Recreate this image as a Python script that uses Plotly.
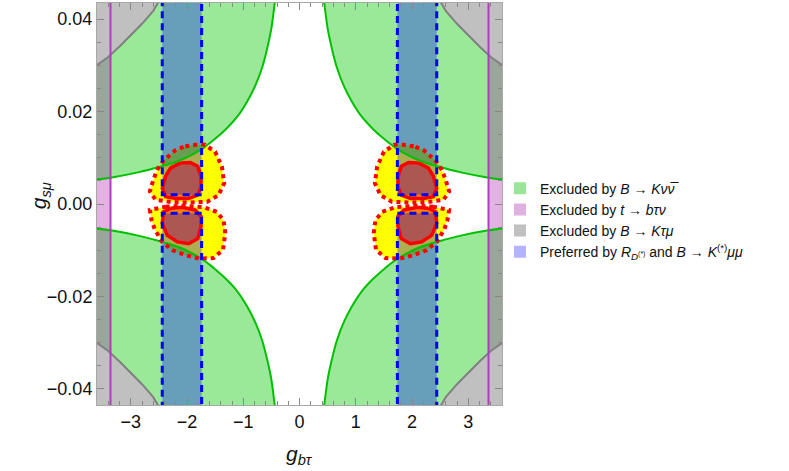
import plotly.graph_objects as go

# axis ranges
x_range = [-3.6, 3.6]
y_range = [-0.0435, 0.0435]
x_ticks = [-3, -2, -1, 0, 1, 2, 3]
y_ticks = [-0.04, -0.02, 0.0, 0.02, 0.04]

# B -> K nu nubar exclusion boundary, upper right branch
knn_x = [0.43, 0.50, 0.58, 0.66, 0.78, 0.93, 1.10, 1.30, 1.50, 1.70, 1.95, 2.20, 2.50, 2.85, 3.36, 3.62]
knn_y = [0.0445, 0.0380, 0.0334, 0.0297, 0.0258, 0.0222, 0.0190, 0.0163, 0.0141, 0.0122,
         0.0104, 0.0091, 0.0080, 0.0069, 0.0057, 0.0053]

# B -> K tau mu exclusion boundary, upper right branch
ktm_x = [2.46, 2.60, 2.80, 3.00, 3.20, 3.40, 3.62]
ktm_y = [0.0447, 0.0418, 0.0390, 0.0365, 0.0341, 0.0318, 0.0299]

# t -> b tau nu limit on |g_btau|
tbtn_limit = 3.36

# preferred band in |g_btau| and its gap around g_smu = 0
band_lo = 1.74
band_hi = 2.44
band_gap = 0.0020

# R_D(*) and B -> K(*) mu mu contours on the negative g_btau side
up_outer_x = [-2.03, -1.85, -1.68, -1.50, -1.38, -1.34, -1.44, -1.64, -1.97, -2.32, -2.56, -2.66, -2.60, -2.53, -2.41, -2.20]
up_outer_y = [0.0125, 0.0128, 0.0128, 0.0113, 0.0081, 0.0045, 0.0019, 0.0005, 0.0003, 0.0005,
              0.0009, 0.0027, 0.0052, 0.0074, 0.0095, 0.0117]
dn_outer_x = [-2.38, -2.09, -1.70, -1.47, -1.35, -1.32, -1.36, -1.53, -1.79, -2.02, -2.26, -2.44, -2.57, -2.63, -2.66]
dn_outer_y = [-0.0006, -0.0004, -0.0007, -0.0017, -0.0035, -0.0063, -0.0099, -0.0117, -0.0118,
              -0.0111, -0.0100, -0.0082, -0.0056, -0.0035, -0.0013]
up_inner_x = [-2.11, -1.94, -1.81, -1.75, -1.75, -1.81, -1.97, -2.20, -2.38, -2.44, -2.38, -2.29]
up_inner_y = [0.0089, 0.0090, 0.0082, 0.0059, 0.0037, 0.0019, 0.0012, 0.0012, 0.0016, 0.0034, 0.0060, 0.0078]
dn_inner_x = [-2.29, -2.09, -1.85, -1.75, -1.75, -1.81, -1.97, -2.17, -2.35, -2.44, -2.42]
dn_inner_y = [-0.0009, -0.0007, -0.0013, -0.0027, -0.0049, -0.0075, -0.0086, -0.0082, -0.0068, -0.0042, -0.0017]

legend_names = [
    "Excluded by <i>B</i> → <i>Kν</i><i>ν̅</i>",
    "Excluded by <i>t</i> → <i>bτν</i>",
    "Excluded by <i>B</i> → <i>Kτμ</i>",
    "Preferred by <i>R</i><sub><i>D</i><sup>(*)</sup></sub> and <i>B</i> → <i>K</i><sup>(*)</sup><i>μμ</i>",
]
legend_colors = ["#99e699", "#e0b0e0", "#c0c0c0", "#b3b3ff"]

GREEN_FILL = "rgba(0,200,0,0.4)"
STRIP_DARK = "#9ba69b"
PINK = "#e2b2e2"
GRAY = "#c0c0c0"
BLUE_FILL = "rgba(0,0,255,0.32)"

top = max(knn_y + ktm_y)
edge = max(knn_x + ktm_x)

fig = go.Figure()


def poly(xs, ys, fill=None, line=None):
    xs = list(xs) + [xs[0]]
    ys = list(ys) + [ys[0]]
    fig.add_trace(go.Scatter(
        x=xs, y=ys, mode="lines",
        fill="toself" if fill else None,
        fillcolor=fill,
        line=line or dict(width=0),
        hoverinfo="skip", showlegend=False,
    ))


quads = [(1, 1), (-1, 1), (1, -1), (-1, -1)]

# t -> b tau nu strips
for s in (1, -1):
    poly([s * tbtn_limit, s * edge, s * edge, s * tbtn_limit],
         [-top, -top, top, top], fill=PINK)

# outer (yellow) and inner contours, both sides
lobes_outer = [(up_outer_x, up_outer_y), (dn_outer_x, dn_outer_y)]
lobes_inner = [(up_inner_x, up_inner_y), (dn_inner_x, dn_inner_y)]
for s in (1, -1):
    for lx, ly in lobes_outer:
        poly([s * v for v in lx], ly, fill="#ffff00")
    for lx, ly in lobes_inner:
        poly([s * v for v in lx], ly, fill="#ff8000")

# B -> K nu nubar excluded region
for sx, sy in quads:
    poly([sx * v for v in knn_x] + [sx * edge], [sy * v for v in knn_y] + [sy * top], fill=GREEN_FILL)

# overlap of strip and B -> K nu nubar region
sx_pts = [x for x in knn_x if x >= tbtn_limit]
sy_pts = [y for x, y in zip(knn_x, knn_y) if x >= tbtn_limit]
for sx, sy in quads:
    poly([sx * v for v in sx_pts] + [sx * edge, sx * tbtn_limit],
         [sy * v for v in sy_pts] + [sy * top, sy * top], fill=STRIP_DARK)

# B -> K tau mu excluded region
for sx, sy in quads:
    poly([sx * v for v in ktm_x] + [sx * edge], [sy * v for v in ktm_y] + [sy * top], fill=GRAY)

# preferred band fill
band_polys = []
for sx, sy in quads:
    bx = [sx * band_lo, sx * band_hi, sx * band_hi, sx * band_lo]
    by = [sy * band_gap, sy * band_gap, sy * top * 1.1, sy * top * 1.1]
    band_polys.append((bx, by))
    poly(bx, by, fill=BLUE_FILL)

# boundary lines
for sx, sy in quads:
    fig.add_trace(go.Scatter(x=[sx * v for v in knn_x], y=[sy * v for v in knn_y], mode="lines",
                             line=dict(color="#00c000", width=2, shape="spline", smoothing=0.6),
                             hoverinfo="skip", showlegend=False))
    fig.add_trace(go.Scatter(x=[sx * v for v in ktm_x], y=[sy * v for v in ktm_y], mode="lines",
                             line=dict(color="#808080", width=2), hoverinfo="skip", showlegend=False))
for s in (1, -1):
    fig.add_trace(go.Scatter(x=[s * tbtn_limit, s * tbtn_limit], y=[-top, top], mode="lines",
                             line=dict(color="#b03cc0", width=2), hoverinfo="skip", showlegend=False))

for s in (1, -1):
    for lx, ly in lobes_outer:
        poly([s * v for v in lx], ly, line=dict(color="#ff0000", width=4, dash="4px,4px"))
    for lx, ly in lobes_inner:
        poly([s * v for v in lx], ly, line=dict(color="#ff0000", width=3.5))

for bx, by in band_polys:
    poly(bx, by, line=dict(color="#0000ff", width=3, dash="7px,5px"))

# legend swatches
for name, col in zip(legend_names, legend_colors):
    fig.add_trace(go.Scatter(x=[None], y=[None], mode="markers", name=name,
                             marker=dict(symbol="square", size=13, color=col)))

axis_common = dict(
    showline=True, linecolor="#a8a8a8", linewidth=1, mirror="allticks",
    ticks="inside", ticklen=7, tickcolor="#888888",
    showgrid=False, zeroline=False, automargin=False,
    tickfont=dict(size=18, color="#111111"),
)

fig.update_layout(
    width=789, height=471,
    margin=dict(l=97, r=287, t=3, b=66),
    paper_bgcolor="white", plot_bgcolor="white",
    font=dict(family="Liberation Sans, Arial, sans-serif", color="#111111"),
    xaxis=dict(range=x_range, tickvals=x_ticks,
               minor=dict(ticks="inside", dtick=0.2, ticklen=4, tickcolor="#888888"),
               **axis_common),
    yaxis=dict(range=y_range, tickvals=y_ticks, tickformat=".2f",
               minor=dict(ticks="inside", dtick=0.005, ticklen=4, tickcolor="#888888"),
               **axis_common),
    legend=dict(x=0.995, y=0.46, xanchor="left", yanchor="middle",
                font=dict(size=14, color="#111111"), itemsizing="constant",
                bgcolor="rgba(0,0,0,0)"),
    showlegend=True,
    annotations=[
        dict(text="<i>g</i><sub><i>bτ</i></sub>", xref="paper", yref="paper",
             x=0.5, y=-0.125, xanchor="center", yanchor="middle",
             showarrow=False, font=dict(size=21)),
        dict(text="<i>g</i><sub><i>sμ</i></sub>", xref="paper", yref="paper",
             x=-0.14, y=0.52, xanchor="center", yanchor="middle", textangle=-90,
             showarrow=False, font=dict(size=21)),
    ],
)

fig.write_html("out.html", config={"displayModeBar": False},
               post_script="document.body.style.margin='0px';")
